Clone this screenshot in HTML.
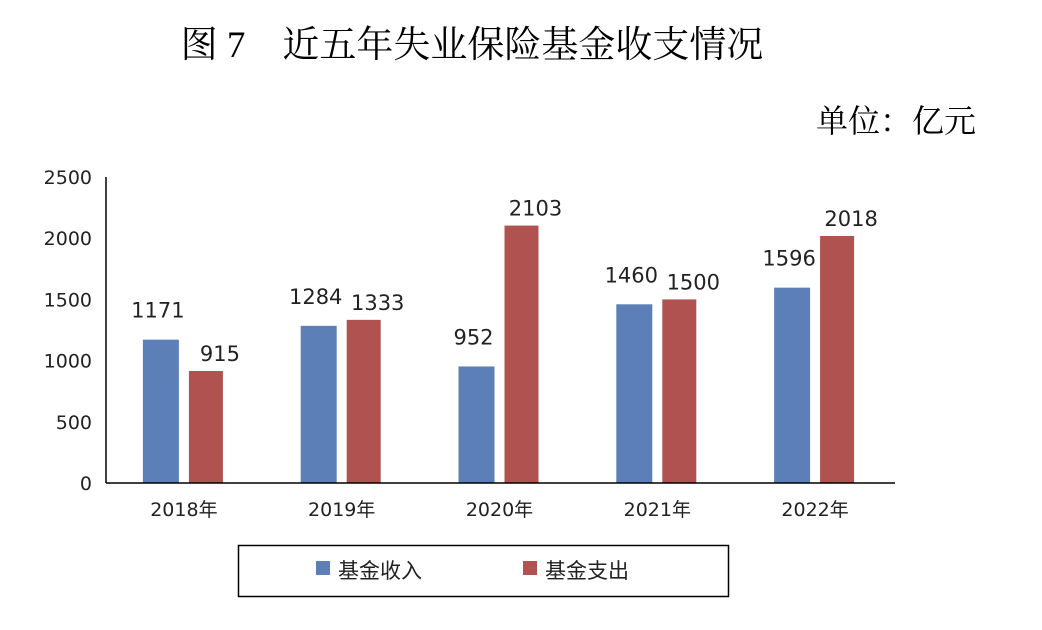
<!DOCTYPE html>
<html><head><meta charset="utf-8"><style>
body{margin:0;background:#fff;}
svg{display:block;font-family:"DejaVu Sans","Noto Sans CJK SC",sans-serif;}
</style></head><body>
<svg width="1042" height="630" viewBox="0 0 1042 630">
<text x="472" y="57" text-anchor="middle" font-size="37" font-family="'Liberation Serif','Noto Serif CJK SC',serif" fill="#000">图 7　近五年失业保险基金收支情况</text>
<text x="976" y="132" text-anchor="end" font-size="32" font-family="'Liberation Serif','Noto Serif CJK SC',serif" fill="#000">单位：亿元</text>
<g id="plot"></g>
<rect x="238.5" y="545.5" width="490" height="51" fill="none" stroke="#000" stroke-width="1.5"/>
<rect x="316" y="561" width="14" height="14" fill="#5b7fb6"/>
<text x="338" y="578" font-size="21" fill="#222">基金收入</text>
<rect x="523" y="561" width="14" height="14" fill="#b0524f"/>
<text x="545" y="578" font-size="21" fill="#222">基金支出</text>
</svg>
<script>
const categories=["2018年","2019年","2020年","2021年","2022年"];
const income=[1171,1284,952,1460,1596];
const expense=[915,1333,2103,1500,2018];
const yTicks=[0,500,1000,1500,2000,2500];
const NS="http://www.w3.org/2000/svg";
const g=document.getElementById("plot");
const x0=106,x1=895,y0=483,yTop=177,yMax=2500;
const y=v=>y0-(v/yMax)*(y0-yTop);
const step=(x1-x0)/categories.length;
const cx=i=>x0+step*(i+0.5)-1;
function mk(tag,attrs,txt){const e=document.createElementNS(NS,tag);for(const k in attrs)e.setAttribute(k,attrs[k]);if(txt!=null)e.textContent=txt;g.appendChild(e);return e;}
yTicks.forEach(t=>{const e=mk("text",{x:92,y:y(t)+7,"text-anchor":"end","font-size":19,fill:"#222"},t);

});
categories.forEach((c,i)=>{
 const bi=mk("rect",{x:cx(i)-41,y:y(income[i]),width:36,height:y0-y(income[i]),fill:"#5b7fb6"});
 
 
 const be=mk("rect",{x:cx(i)+5,y:y(expense[i]),width:34,height:y0-y(expense[i]),fill:"#b0524f"});
 
 
 const li=mk("text",{x:cx(i)-26,y:y(income[i])-22,"text-anchor":"middle","font-size":21,fill:"#222"},income[i]);
 
 
 const le=mk("text",{x:cx(i)+36,y:y(expense[i])-10,"text-anchor":"middle","font-size":21,fill:"#222"},expense[i]);
 
 
 const xl=mk("text",{x:cx(i),y:516,"text-anchor":"middle","font-size":19,fill:"#222"},c);
 
 
});
const ya=mk("line",{x1:x0,y1:yTop,x2:x0,y2:y0,stroke:"#000","stroke-width":1.5});


const xa=mk("line",{x1:x0,y1:y0,x2:x1,y2:y0,stroke:"#000","stroke-width":1.5});


</script>
</body></html>
